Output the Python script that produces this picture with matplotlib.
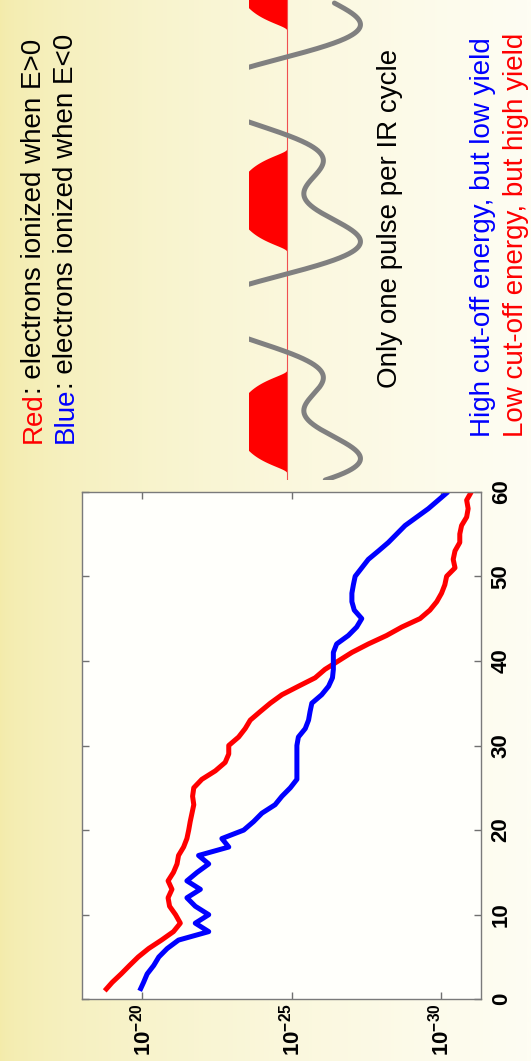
import numpy as np
import matplotlib
matplotlib.use("Agg")
import matplotlib.pyplot as plt
from matplotlib.colors import LinearSegmentedColormap
from matplotlib.ticker import NullLocator
from matplotlib.font_manager import FontProperties

plt.rcParams["font.family"] = ["Liberation Sans", "DejaVu Sans"]
plt.rcParams["mathtext.fontset"] = "custom"
plt.rcParams["mathtext.rm"] = "Liberation Sans"
plt.rcParams["mathtext.bf"] = "Liberation Sans:bold"

# ---- spectrum data: photon energy vs. log10(yield) ----
energy = list(range(1, 61))
red_log = [-18.75, -19.00, -19.30, -19.58, -19.87, -20.22, -20.65, -21.05, -21.28, -21.12,
           -20.92, -20.87, -21.00, -20.87, -21.05, -21.17, -21.22, -21.39, -21.50, -21.56,
           -21.61, -21.67, -21.73, -21.69, -21.73, -22.00, -22.45, -22.78, -22.90, -22.90,
           -23.23, -23.45, -23.62, -23.95, -24.29, -24.68, -25.23, -25.79, -26.12, -26.57,
           -27.02, -27.57, -28.18, -28.69, -29.30, -29.63, -29.86, -30.02, -30.13, -30.19,
           -30.47, -30.41, -30.47, -30.63, -30.63, -30.69, -30.86, -30.91, -30.86, -31.02]
blue_log = [-19.92, -20.05, -20.17, -20.39, -20.56, -20.84, -21.22, -22.23, -21.78, -22.23,
            -21.78, -21.50, -21.95, -21.50, -21.84, -22.23, -21.89, -22.90, -22.67, -23.40,
            -23.73, -24.01, -24.45, -24.68, -24.96, -25.18, -25.18, -25.18, -25.18, -25.18,
            -25.23, -25.46, -25.57, -25.62, -25.68, -26.01, -26.24, -26.37, -26.40, -26.40,
            -26.40, -26.51, -26.90, -27.18, -27.35, -27.10, -27.02, -27.02, -27.07, -27.13,
            -27.35, -27.57, -27.91, -28.24, -28.52, -28.80, -29.19, -29.58, -29.91, -30.24]
yield_ticks = [1e-20, 1e-25, 1e-30]
yield_labels = [r"$\mathbf{10^{-20}}$", r"$\mathbf{10^{-25}}$", r"$\mathbf{10^{-30}}$"]
energy_ticks = [0, 10, 20, 30, 40, 50, 60]
energy_labels = ["0", "10", "20", "30", "40", "50", "60"]

# ---- IR field sketch: features of one cycle (phase from the field maximum) ----
field_key_phase_deg = [0, 81, 133, 181, 245, 309]
field_key_value = [1.0, 0.19, 0.48, 0.0, -1.2, 0.0]
field_key_is_extremum = [True, True, True, False, True, False]
field_t_ref = 0.097                 # time (IR cycles) of the field maximum
field_t_end = 2.198
pulse_centres = [0.27, 1.29, 2.31]  # ionisation bursts, one per cycle
pulse_height = 0.67
pulse_sharpness = 0.54

W, H = 531, 1061
fig = plt.figure(figsize=(W / 100, H / 100), dpi=100)


def fx(px):
    return px / W


def fy(py):
    return 1 - py / H


# slide background
bg = fig.add_axes([0, 0, 1, 1], zorder=-10)
ramp = np.linspace(0, 1, 512) ** 0.6
bg.imshow(ramp[None, :], aspect="auto", extent=[0, 1, 0, 1],
          cmap=LinearSegmentedColormap.from_list("slide", ["#F3EBAA", "#FEFDF3"]))
bg.axis("off")

# ---- spectrum axes (drawn turned a quarter turn) ----
ax = fig.add_axes([fx(82.3), fy(999.3), (481 - 82.3) / W, (999.3 - 491.7) / H])
ax.set_facecolor("#FFFFFB")
ax.plot(10.0 ** np.array(red_log), energy, color="#FF0000", lw=3.6, solid_capstyle="butt")
ax.plot(10.0 ** np.array(blue_log), energy, color="#0000FF", lw=3.6, solid_capstyle="butt")
ax.set_xscale("log")
ax.set_xlim(10 ** -18.0, 10 ** -31.34)
ax.set_ylim(0, 60)
ax.xaxis.set_minor_locator(NullLocator())
ax.set_xticks(yield_ticks)
ax.set_xticklabels(yield_labels, rotation=90, fontsize=16, ha="center", va="top")
ax.set_yticks(energy_ticks)
ax.set_yticklabels(energy_labels, rotation=90, fontsize=16, fontweight="bold",
                   ha="left", va="center")
ax.tick_params(direction="in", length=5, width=1, color="#707070",
               top=True, bottom=True, left=True, right=True,
               labelleft=False, labelright=True)
ax.tick_params(axis="x", pad=3)
ax.tick_params(axis="y", pad=7)
for sp in ax.spines.values():
    sp.set_color("#7A7A7A")
    sp.set_linewidth(1.0)

# ---- field / ionisation sketch (picture cropped on its left side) ----
t_bottom_px, px_per_cycle = 480.0, 217.0
t_max = 2.25
zero_px, px_per_unit = 287.0, 75.0
left_px, right_px = 249.0, 400.0
axf = fig.add_axes([fx(left_px), fy(t_bottom_px), (right_px - left_px) / W,
                    t_max * px_per_cycle / H])
axf.set_xlim((left_px - zero_px) / px_per_unit, (right_px - zero_px) / px_per_unit)
axf.set_ylim(0, t_max)
axf.axis("off")

# smooth periodic waveform (DC + 3 harmonics) through the cycle features
n_harm = 3
rows, rhs = [], []
for ph_deg, val, ext in zip(field_key_phase_deg, field_key_value, field_key_is_extremum):
    th = np.deg2rad(ph_deg)
    rows.append([1.0] + [f(n * th) for n in range(1, n_harm + 1) for f in (np.cos, np.sin)])
    rhs.append(val)
    if ext:
        rows.append([0.0] + [d for n in range(1, n_harm + 1)
                             for d in (-n * np.sin(n * th), n * np.cos(n * th))])
        rhs.append(0.0)
coef = np.linalg.lstsq(np.array(rows), np.array(rhs), rcond=None)[0]

t = np.linspace(0, field_t_end, 1500)
theta = 2 * np.pi * (t - field_t_ref)
field = coef[0] + sum(coef[2 * n - 1] * np.cos(n * theta) + coef[2 * n] * np.sin(n * theta)
                      for n in range(1, n_harm + 1))

tr = np.linspace(0, 2.22, 2000)
rate = np.zeros_like(tr)
for c in pulse_centres:
    ph = np.cos(2 * np.pi * (tr - c))
    inside = (np.abs(tr - c) < 0.25) & (ph > 1e-3)
    rate[inside] += pulse_height * np.exp(-pulse_sharpness * (1 / ph[inside] - 1))

axf.fill_betweenx(tr, -rate, 0, color="#FF0000", lw=0)
axf.plot([0, 0], [0, 2.22], color="#F05050", lw=0.8)
axf.plot(field, t, color="#808080", lw=3.6, solid_capstyle="round")

# ---- annotations (multi-coloured lines are laid out piece by piece) ----
renderer = fig.canvas.get_renderer()
TEXT_SIZE = 20
prop = FontProperties(family=["Liberation Sans", "DejaVu Sans"], size=TEXT_SIZE)


def rotated_line(x_px, y_px, parts):
    x, y = fx(x_px), fy(y_px)
    for text, color in parts:
        fig.text(x, y, text, color=color, rotation=90, rotation_mode="anchor",
                 ha="left", va="baseline", fontproperties=prop)
        w, _, _ = renderer.get_text_width_height_descent(text, prop, ismath=False)
        y += (w - 1.5) / fig.bbox.height


rotated_line(41, 443, [("Red", "#FF0000"), (": electrons ionized when E>0", "black")])
rotated_line(73, 443, [("Blue", "#0000FF"), (": electrons ionized when E<0", "black")])
rotated_line(397, 388, [("Only one pulse per IR cycle", "black")])
rotated_line(490, 437, [("High cut-off energy, but low yield", "#0000FF")])
rotated_line(523, 437, [("Low cut-off energy, but high yield", "#FF0000")])

fig.savefig("out.png", dpi=100)
